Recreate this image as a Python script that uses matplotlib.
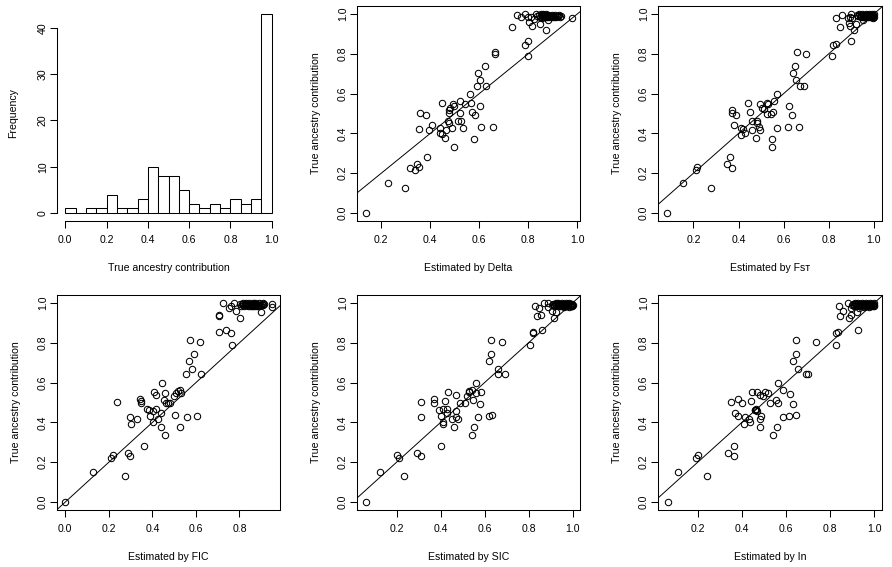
import matplotlib
matplotlib.use("Agg")
import matplotlib.pyplot as plt

plt.rcParams['font.family'] = ['Liberation Sans', 'DejaVu Sans']
FS = 7.6

# ---------------- data ----------------
hist_edges = [0.0, 0.05, 0.1, 0.15, 0.2, 0.25, 0.3, 0.35, 0.4, 0.45, 0.5,
              0.55, 0.6, 0.65, 0.7, 0.75, 0.8, 0.85, 0.9, 0.95, 1.0]
hist_counts = [1, 0, 1, 1, 4, 1, 1, 3, 10, 8, 8, 5, 2, 1, 2, 1, 3, 2, 3, 43]

delta_x = [0.139, 0.226, 0.295, 0.319, 0.336, 0.344, 0.352, 0.388, 0.360, 0.383,
           0.356, 0.393, 0.409, 0.441, 0.441, 0.449, 0.461, 0.466, 0.449, 0.471,
           0.478, 0.478, 0.477, 0.481, 0.494, 0.497, 0.490, 0.498, 0.515, 0.525,
           0.523, 0.523, 0.535, 0.543, 0.563, 0.567, 0.572, 0.584, 0.580, 0.604,
           0.608, 0.592, 0.604, 0.596, 0.624, 0.628, 0.657, 0.665, 0.665, 0.734,
           0.755, 0.771, 0.787, 0.799, 0.787, 0.799, 0.799, 0.803, 0.816, 0.812,
           0.825, 0.832, 0.848, 0.873, 0.856, 0.873, 0.881, 0.978,
           0.835, 0.842, 0.848, 0.852, 0.855, 0.858, 0.860, 0.862, 0.864, 0.866,
           0.868, 0.870, 0.872, 0.874, 0.876, 0.878, 0.880, 0.883, 0.886, 0.889,
           0.892, 0.895, 0.898, 0.901, 0.905, 0.909, 0.913, 0.918, 0.922, 0.927,
           0.931, 0.935]
delta_y = [0.000, 0.151, 0.126, 0.227, 0.218, 0.247, 0.232, 0.282, 0.505, 0.493,
           0.423, 0.418, 0.443, 0.426, 0.403, 0.396, 0.378, 0.418, 0.554, 0.463,
           0.453, 0.500, 0.517, 0.529, 0.547, 0.539, 0.426, 0.332, 0.463, 0.463,
           0.500, 0.564, 0.428, 0.550, 0.599, 0.554, 0.508, 0.493, 0.372, 0.539,
           0.433, 0.639, 0.669, 0.705, 0.740, 0.639, 0.433, 0.810, 0.800, 0.936,
           0.997, 0.987, 1.000, 0.790, 0.846, 0.866, 0.987, 0.961, 0.941, 0.987,
           0.977, 1.000, 0.951, 0.921, 0.982, 0.997, 0.971, 0.982,
           0.990, 0.995, 0.985, 0.998, 0.990, 0.993, 0.985, 1.000, 0.995, 0.988,
           0.997, 0.992, 0.984, 0.999, 0.990, 0.986, 0.995, 0.990, 0.985, 0.992,
           0.988, 0.995, 0.984, 0.990, 0.987, 0.993, 0.985, 0.990, 0.988, 0.994,
           0.986, 0.991]

fst_x = [0.083, 0.156, 0.213, 0.218, 0.276, 0.347, 0.364, 0.369, 0.369, 0.373,
         0.387, 0.382, 0.413, 0.418, 0.413, 0.427, 0.440, 0.453, 0.458, 0.458,
         0.476, 0.480, 0.484, 0.489, 0.493, 0.493, 0.502, 0.511, 0.524, 0.529,
         0.524, 0.542, 0.551, 0.556, 0.569, 0.547, 0.547, 0.569, 0.618, 0.622,
         0.636, 0.667, 0.640, 0.649, 0.653, 0.658, 0.671, 0.689, 0.698, 0.813,
         0.818, 0.831, 0.898, 0.831, 0.849, 0.858, 0.884, 0.889, 0.893, 0.898,
         0.902, 0.911, 0.920, 0.893, 0.953,
         0.925, 0.930, 0.934, 0.938, 0.941, 0.944, 0.947, 0.950, 0.953, 0.956,
         0.958, 0.960, 0.963, 0.965, 0.967, 0.970, 0.972, 0.974, 0.976, 0.978,
         0.980, 0.982, 0.984, 0.986, 0.988, 0.990, 0.992, 0.994, 0.996, 0.998,
         1.000, 0.999, 0.997, 0.995, 0.993]
fst_y = [0.000, 0.151, 0.218, 0.232, 0.126, 0.247, 0.282, 0.227, 0.505, 0.520,
         0.493, 0.443, 0.428, 0.423, 0.393, 0.403, 0.554, 0.508, 0.463, 0.418,
         0.378, 0.463, 0.453, 0.433, 0.418, 0.549, 0.529, 0.523, 0.554, 0.549,
         0.498, 0.498, 0.508, 0.564, 0.599, 0.372, 0.332, 0.428, 0.433, 0.539,
         0.493, 0.433, 0.705, 0.740, 0.669, 0.810, 0.639, 0.639, 0.800, 0.790,
         0.846, 0.851, 0.866, 0.982, 0.936, 0.997, 0.982, 0.956, 0.941, 1.000,
         0.982, 0.921, 0.951, 0.987, 0.971,
         0.995, 0.990, 0.998, 0.988, 0.994, 0.985, 0.999, 0.990, 0.986, 0.996,
         0.992, 0.984, 0.998, 0.989, 0.994, 0.985, 0.997, 0.991, 0.987, 0.999,
         0.993, 0.985, 0.996, 0.990, 0.983, 0.998, 0.992, 0.986, 0.995, 0.989,
         0.984, 0.999, 0.980, 0.993, 0.987]

fic_x = [0.000, 0.126, 0.209, 0.218, 0.273, 0.287, 0.296, 0.361, 0.237, 0.296,
         0.301, 0.329, 0.343, 0.347, 0.350, 0.375, 0.384, 0.389, 0.402, 0.402,
         0.416, 0.425, 0.407, 0.416, 0.444, 0.439, 0.439, 0.458, 0.453, 0.458,
         0.462, 0.472, 0.481, 0.499, 0.508, 0.518, 0.527, 0.531, 0.504, 0.527,
         0.559, 0.605, 0.555, 0.582, 0.568, 0.591, 0.573, 0.619, 0.624, 0.708,
         0.707, 0.708, 0.739, 0.762, 0.767, 0.725, 0.753, 0.762, 0.776, 0.785,
         0.803, 0.803, 0.897, 0.951, 0.951,
         0.805, 0.810, 0.815, 0.818, 0.822, 0.826, 0.829, 0.832, 0.836, 0.840,
         0.843, 0.846, 0.849, 0.852, 0.855, 0.858, 0.860, 0.862, 0.864, 0.866,
         0.868, 0.870, 0.873, 0.876, 0.879, 0.882, 0.885, 0.888, 0.891, 0.894,
         0.898, 0.902, 0.906, 0.910, 0.914]
fic_y = [0.000, 0.151, 0.221, 0.236, 0.131, 0.246, 0.231, 0.281, 0.503, 0.427,
         0.392, 0.417, 0.518, 0.508, 0.500, 0.467, 0.462, 0.432, 0.457, 0.402,
         0.467, 0.417, 0.553, 0.538, 0.598, 0.447, 0.377, 0.337, 0.513, 0.548,
         0.497, 0.497, 0.497, 0.533, 0.548, 0.558, 0.563, 0.548, 0.437, 0.377,
         0.427, 0.432, 0.643, 0.668, 0.709, 0.744, 0.814, 0.804, 0.643, 0.854,
         0.935, 0.938, 0.864, 0.849, 0.789, 1.000, 0.975, 0.985, 1.000, 0.960,
         0.925, 0.995, 0.955, 0.995, 0.980,
         0.985, 0.995, 0.990, 1.000, 0.985, 0.993, 0.998, 0.988, 0.995, 0.983,
         1.000, 0.990, 0.985, 0.996, 0.992, 0.984, 1.000, 0.990, 0.987, 0.997,
         0.993, 0.985, 1.000, 0.990, 0.983, 0.996, 0.990, 0.985, 1.000, 0.992,
         0.988, 0.996, 0.990, 1.000, 0.993]

sic_x = [0.062, 0.123, 0.200, 0.209, 0.232, 0.295, 0.309, 0.313, 0.313, 0.372,
         0.372, 0.391, 0.400, 0.409, 0.413, 0.413, 0.400, 0.422, 0.427, 0.431,
         0.436, 0.450, 0.463, 0.468, 0.472, 0.468, 0.481, 0.490, 0.509, 0.518,
         0.527, 0.531, 0.545, 0.549, 0.545, 0.554, 0.563, 0.563, 0.568, 0.581,
         0.586, 0.622, 0.636, 0.618, 0.631, 0.631, 0.681, 0.663, 0.663, 0.695,
         0.808, 0.822, 0.822, 0.863, 0.831, 0.840, 0.849, 0.858, 0.872, 0.890,
         0.890, 0.908, 0.917, 0.926,
         0.908, 0.912, 0.916, 0.920, 0.923, 0.926, 0.929, 0.932, 0.935, 0.938,
         0.941, 0.944, 0.947, 0.950, 0.952, 0.955, 0.958, 0.960, 0.963, 0.966,
         0.968, 0.971, 0.974, 0.976, 0.979, 0.981, 0.984, 0.986, 0.989, 0.991,
         0.993, 0.995, 0.997, 0.999, 1.000, 0.998]
sic_y = [0.000, 0.151, 0.236, 0.221, 0.131, 0.246, 0.231, 0.503, 0.427, 0.518,
         0.497, 0.462, 0.432, 0.467, 0.402, 0.392, 0.281, 0.508, 0.447, 0.467,
         0.553, 0.417, 0.377, 0.538, 0.457, 0.427, 0.417, 0.497, 0.497, 0.533,
         0.553, 0.558, 0.563, 0.513, 0.337, 0.377, 0.548, 0.598, 0.427, 0.493,
         0.553, 0.432, 0.437, 0.709, 0.744, 0.814, 0.804, 0.668, 0.643, 0.643,
         0.789, 0.849, 0.854, 0.864, 0.985, 0.935, 0.975, 0.940, 1.000, 1.000,
         0.980, 0.960, 0.925, 0.955,
         0.990, 0.997, 0.985, 0.993, 1.000, 0.988, 0.995, 0.983, 0.998, 0.990,
         0.986, 0.996, 0.992, 0.984, 1.000, 0.989, 0.995, 0.982, 0.997, 0.991,
         0.986, 0.999, 0.993, 0.984, 0.996, 0.990, 0.980, 0.998, 0.992, 0.986,
         0.995, 0.989, 0.983, 0.997, 0.991, 0.985]

in_x = [0.064, 0.109, 0.191, 0.200, 0.241, 0.336, 0.363, 0.363, 0.350, 0.368,
        0.382, 0.382, 0.400, 0.409, 0.413, 0.431, 0.436, 0.440, 0.445, 0.459,
        0.463, 0.468, 0.468, 0.481, 0.481, 0.481, 0.486, 0.495, 0.504, 0.518,
        0.527, 0.540, 0.554, 0.563, 0.563, 0.559, 0.586, 0.586, 0.613, 0.618,
        0.631, 0.645, 0.631, 0.645, 0.645, 0.654, 0.690, 0.699, 0.736, 0.826,
        0.826, 0.835, 0.926, 0.840, 0.844, 0.858, 0.881, 0.885, 0.894, 0.894,
        0.922, 0.461, 0.465,
        0.900, 0.904, 0.908, 0.911, 0.914, 0.917, 0.920, 0.923, 0.926, 0.929,
        0.932, 0.935, 0.938, 0.941, 0.944, 0.947, 0.950, 0.952, 0.955, 0.958,
        0.960, 0.963, 0.966, 0.968, 0.971, 0.974, 0.976, 0.979, 0.982, 0.984,
        0.987, 0.990, 0.993, 0.995, 0.998, 1.000, 0.999]
in_y = [0.000, 0.151, 0.221, 0.236, 0.131, 0.246, 0.231, 0.281, 0.503, 0.447,
        0.432, 0.518, 0.497, 0.392, 0.427, 0.417, 0.402, 0.508, 0.553, 0.462,
        0.467, 0.457, 0.553, 0.538, 0.417, 0.377, 0.432, 0.533, 0.553, 0.548,
        0.497, 0.337, 0.513, 0.497, 0.598, 0.377, 0.563, 0.427, 0.432, 0.543,
        0.493, 0.437, 0.709, 0.744, 0.814, 0.668, 0.643, 0.643, 0.804, 0.789,
        0.849, 0.854, 0.864, 0.985, 0.935, 0.960, 1.000, 0.925, 0.940, 0.975,
        0.955, 0.460, 0.463,
        0.990, 0.997, 0.985, 0.993, 1.000, 0.988, 0.995, 0.983, 0.998, 0.990,
        0.975, 0.996, 0.992, 0.984, 1.000, 0.989, 0.995, 0.982, 0.997, 0.991,
        0.986, 0.999, 0.993, 0.984, 0.996, 0.990, 0.980, 0.998, 0.992, 0.986,
        0.995, 0.989, 0.983, 0.997, 0.991, 0.985, 0.999]

y_ticks = [0.0, 0.2, 0.4, 0.6, 0.8, 1.0]
x_label_prefix = "Estimated by "

panels = [
    # (x, y, method, x_ticks, xlim, box px (left, top, right, bottom))
    (delta_x, delta_y, "Delta", [0.2, 0.4, 0.6, 0.8, 1.0], (0.101, 1.011), (357, 6, 580, 221)),
    (fst_x, fst_y, "Fs\u0442", [0.2, 0.4, 0.6, 0.8, 1.0], (0.043, 1.036), (658, 6, 882, 221)),
    (fic_x, fic_y, "FIC", [0.0, 0.2, 0.4, 0.6, 0.8], (-0.038, 0.986), (57, 295, 280, 510)),
    (sic_x, sic_y, "SIC", [0.2, 0.4, 0.6, 0.8, 1.0], (0.020, 1.034), (357, 295, 580, 510)),
    (in_x, in_y, "In", [0.2, 0.4, 0.6, 0.8, 1.0], (0.020, 1.035), (658, 295, 882, 510)),
]

W, H = 892, 567
fig = plt.figure(figsize=(W / 100, H / 100), dpi=100)
fig.patch.set_facecolor('white')


def px_axes(l, t, r, b):
    return fig.add_axes([l / W, 1 - b / H, (r - l) / W, (b - t) / H])


def style_ticks(ax, w_px, h_px):
    ax.tick_params(axis='both', direction='out', length=5, width=0.75,
                   labelsize=FS, colors='black')
    ax.tick_params(axis='x', pad=5.0)
    ax.tick_params(axis='y', pad=1.5)
    for lab in ax.get_yticklabels():
        lab.set_rotation(90)
        lab.set_va('center')
    ax.xaxis.set_label_coords(0.5, -47 / h_px)
    ax.yaxis.set_label_coords(-41 / w_px, 0.5)
    ax.xaxis.label.set_va('center')
    ax.yaxis.label.set_va('center')


# ---- histogram ----
l, t, r, b = 57, 6, 280, 221
axh = px_axes(l, t, r, b)
widths = [hist_edges[i + 1] - hist_edges[i] for i in range(len(hist_counts))]
axh.bar(hist_edges[:-1], hist_counts, width=widths, align='edge',
        color='white', edgecolor='black', linewidth=0.75)
axh.set_xlim(-0.04, 1.04)
axh.set_ylim(-1.72, 44.72)
for s in ('top', 'right'):
    axh.spines[s].set_visible(False)
axh.spines['left'].set_bounds(0, 40)
axh.spines['bottom'].set_bounds(0, 1)
for s in ('left', 'bottom'):
    axh.spines[s].set_linewidth(0.75)
axh.set_xticks([0.0, 0.2, 0.4, 0.6, 0.8, 1.0])
axh.set_xticklabels([f"{v:.1f}" for v in [0.0, 0.2, 0.4, 0.6, 0.8, 1.0]])
axh.set_yticks([0, 10, 20, 30, 40])
axh.set_yticklabels(["0", "10", "20", "30", "40"])
axh.set_xlabel("True ancestry contribution", fontsize=FS)
axh.set_ylabel("Frequency", fontsize=FS)
style_ticks(axh, r - l, b - t)
axh.yaxis.set_label_coords(-44 / (r - l), 0.5)

# ---- scatter panels ----
for xs, ys, method, xt, xlim, (l, t, r, b) in panels:
    ax = px_axes(l, t, r, b)
    ax.plot(xs, ys, 'o', mfc='none', mec='black', ms=4.6, mew=0.75,
            linestyle='none')
    ax.axline((0, 0), slope=1, color='black', lw=0.7)
    ax.set_xlim(*xlim)
    ax.set_ylim(-0.04, 1.04)
    ax.set_xticks(xt)
    ax.set_xticklabels([f"{v:.1f}" for v in xt])
    ax.set_yticks(y_ticks)
    ax.set_yticklabels([f"{v:.1f}" for v in y_ticks])
    for s in ax.spines.values():
        s.set_linewidth(0.75)
    ax.set_xlabel(x_label_prefix + method, fontsize=FS)
    ax.set_ylabel("True ancestry contribution", fontsize=FS)
    style_ticks(ax, r - l, b - t)

fig.savefig("out.png", dpi=100, facecolor='white')
